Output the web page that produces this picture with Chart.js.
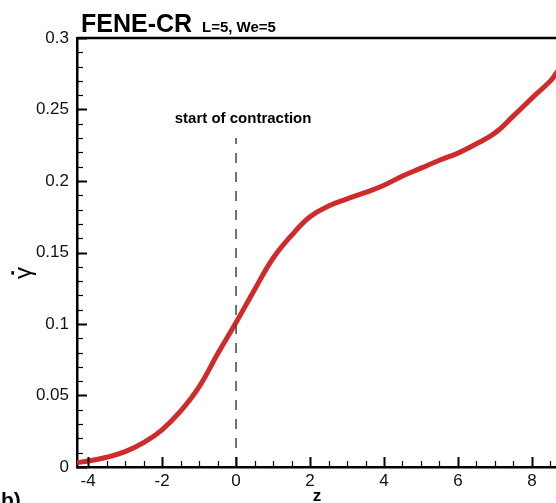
<!DOCTYPE html>
<html>
<head>
<meta charset="utf-8">
<script src="https://cdn.jsdelivr.net/npm/chart.js@4.4.0/dist/chart.umd.min.js"></script>
<style>
html, body { margin: 0; padding: 0; background: #fff; }
</style>
</head>
<body>
<canvas id="myChart" width="556" height="503"></canvas>
<script>
var z_vals = [-4.3, -4, -3.5, -3, -2.5, -2, -1.5, -1, -0.5, 0, 0.5, 1, 1.5, 2, 2.5, 3, 3.5, 4, 4.5, 5, 5.5, 6, 6.5, 7, 7.5, 8, 8.5, 8.7];
var gamma_vals = [0.003, 0.0042, 0.0068, 0.0107, 0.017, 0.026, 0.039, 0.056, 0.079, 0.101, 0.124, 0.146, 0.162, 0.175, 0.1825, 0.1875, 0.192, 0.197, 0.2035, 0.209, 0.2145, 0.2195, 0.226, 0.2335, 0.2455, 0.258, 0.27, 0.277];
var x_ticks = [-4, -2, 0, 2, 4, 6, 8];
var y_ticks = [0, 0.05, 0.1, 0.15, 0.2, 0.25, 0.3];
var y_labels = ['0', '0.05', '0.1', '0.15', '0.2', '0.25', '0.3'];
var contraction_z = [0, 0];
var contraction_y = [0, 0.23];

var FONT = '"Liberation Sans", Arial, sans-serif';

var curve = z_vals.map(function (z, i) { return { x: z, y: gamma_vals[i] }; });
var dashed = contraction_z.map(function (z, i) { return { x: z, y: contraction_y[i] }; });

/* inward tick marks, top frame line and the loose texts */
var decor = {
	id: 'decor',
	afterDraw: function (chart) {
		var ctx = chart.ctx;
		var xs = chart.scales.x;
		var ys = chart.scales.y;
		var a = chart.chartArea;
		ctx.save();
		ctx.strokeStyle = '#000';

		// y ticks, minor every 0.01
		for (var i = 0; i <= 30; i++) {
			var major = (i % 5 == 0);
			var py = Math.round(ys.getPixelForValue(i / 100)) + 0.5;
			ctx.lineWidth = major ? 2 : 1.2;
			ctx.beginPath();
			ctx.moveTo(a.left, py);
			ctx.lineTo(a.left + (major ? 10 : 6), py);
			ctx.stroke();
		}
		// x ticks, minor every 0.5
		for (var j = -8; j <= 17; j++) {
			var zv = j / 2;
			if (zv < xs.min || zv > xs.max) continue;
			var majorx = (j % 4 == 0);
			var px = Math.round(xs.getPixelForValue(zv)) + 0.5;
			ctx.lineWidth = majorx ? 2 : 1.2;
			ctx.beginPath();
			ctx.moveTo(px, a.bottom);
			ctx.lineTo(px, a.bottom - (majorx ? 10 : 6));
			ctx.stroke();
		}
		// top frame
		ctx.lineWidth = 2.5;
		ctx.beginPath();
		ctx.moveTo(a.left, a.top);
		ctx.lineTo(a.right, a.top);
		ctx.stroke();

		ctx.fillStyle = '#000';
		ctx.textBaseline = 'alphabetic';
		ctx.textAlign = 'left';
		ctx.font = 'bold 25px ' + FONT;
		ctx.fillText('FENE-CR', 81, 32);
		ctx.font = 'bold 15px ' + FONT;
		ctx.fillText('L=5, We=5', 202, 32);

		ctx.textAlign = 'center';
		ctx.font = 'bold 15px ' + FONT;
		ctx.fillText('start of contraction', xs.getPixelForValue(0) + 7, 123);

		ctx.font = 'bold 17px ' + FONT;
		ctx.fillText('z', 317, 501);

		ctx.textAlign = 'left';
		ctx.font = 'bold 21px ' + FONT;
		ctx.fillText('b)', 1, 507);

		// rotated gamma-dot label
		ctx.translate(30.5, 273);
		ctx.rotate(-Math.PI / 2);
		ctx.textAlign = 'center';
		ctx.font = '24px ' + FONT;
		ctx.fillText('\u03B3', 0, 0);
		ctx.font = 'bold 26px ' + FONT;
		ctx.fillText('\u02D9', 0, -1);
		ctx.restore();
	}
};

var ctx = document.getElementById('myChart').getContext('2d');
var graph = new Chart(ctx, {
	type: 'scatter',
	data: {
		datasets: [{
			label: 'gamma',
			data: curve,
			showLine: true,
			borderColor: '#d12a2a',
			borderWidth: 5,
			pointRadius: 0,
			tension: 0.4,
			order: 2
		}, {
			label: 'contraction',
			data: dashed,
			showLine: true,
			borderColor: '#444',
			borderWidth: 1.5,
			borderDash: [10, 9],
			pointRadius: 0,
			order: 1
		}]
	},
	options: {
		responsive: false,
		animation: false,
		layout: { padding: { top: 38, right: 0, left: 0, bottom: 0 } },
		plugins: {
			legend: { display: false },
			tooltip: { enabled: false }
		},
		scales: {
			x: {
				type: 'linear',
				min: -4.3,
				max: 8.65,
				grid: { display: false, drawTicks: false },
				border: { display: true, color: '#000', width: 2.5 },
				afterBuildTicks: function (scale) {
					scale.ticks = x_ticks.map(function (v) { return { value: v }; });
				},
				afterFit: function (scale) {
					scale.height = 36;
					scale.paddingLeft = 0;
					scale.paddingRight = 0;
				},
				ticks: {
					color: '#111',
					padding: 4,
					maxRotation: 0,
					font: { family: FONT, size: 17 }
				}
			},
			y: {
				type: 'linear',
				min: 0,
				max: 0.3,
				grid: { display: false, drawTicks: false },
				border: { display: true, color: '#000', width: 2.5 },
				afterBuildTicks: function (scale) {
					scale.ticks = y_ticks.map(function (v) { return { value: v }; });
				},
				afterFit: function (scale) {
					scale.width = 77;
					scale.paddingTop = 0;
					scale.paddingBottom = 0;
				},
				ticks: {
					color: '#111',
					padding: 8,
					font: { family: FONT, size: 17 },
					callback: function (v) { return y_labels[y_ticks.indexOf(v)]; }
				}
			}
		}
	},
	plugins: [decor]
});
</script>
</body>
</html>
